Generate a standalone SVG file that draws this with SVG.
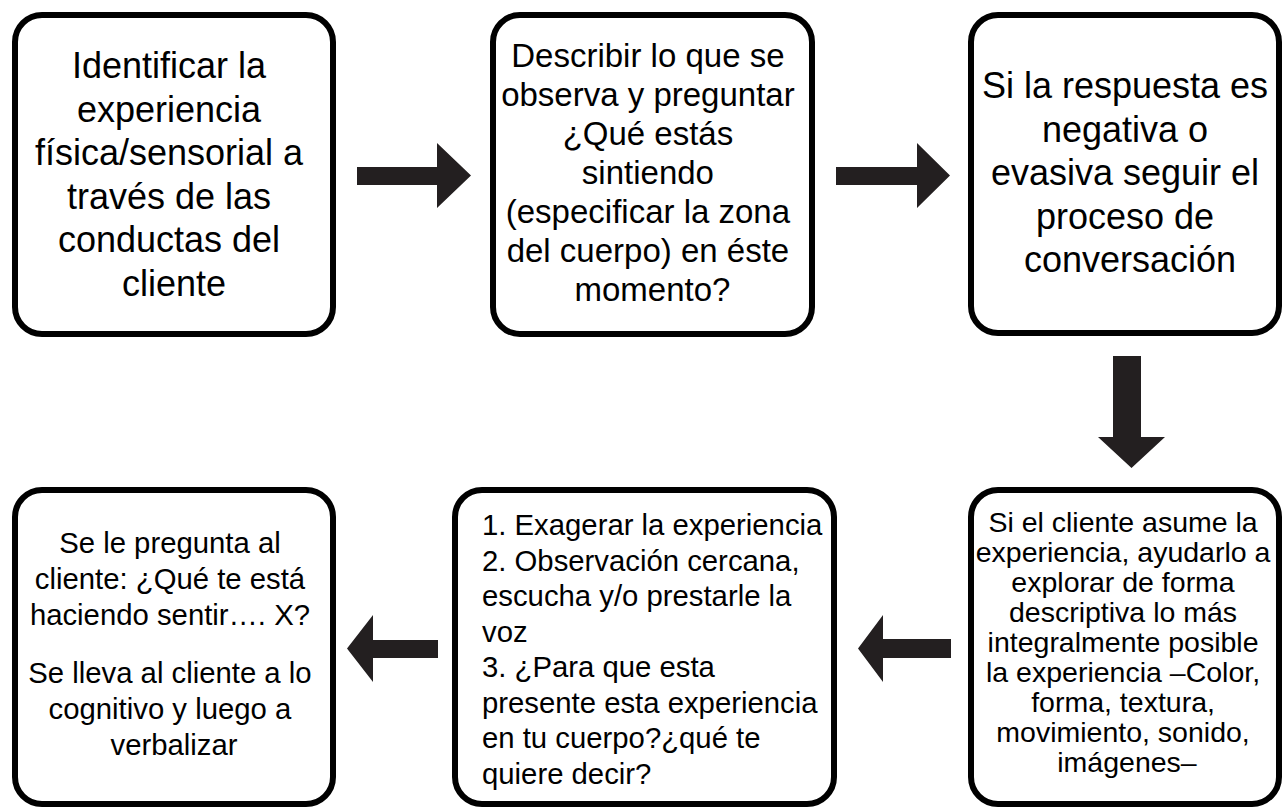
<svg xmlns="http://www.w3.org/2000/svg" width="1282" height="808" viewBox="0 0 1282 808">
<style>
.box{fill:#fff;stroke:#000;stroke-width:6}
.t{font-family:"Liberation Sans",Arial,sans-serif;fill:#000}
.c{text-anchor:middle}
.arr{fill:#231f20}
</style>
<rect width="1282" height="808" fill="#fff"/>
<g id="connectors">
<polygon class="arr" points="357,167 437,167 437,143 471,175.5 437,208 437,185 357,185"/>
<polygon class="arr" points="836,167 917,167 917,143 950,175.5 917,208 917,185 836,185"/>
<polygon class="arr" points="1113,356 1141,356 1141,437 1165,437 1131.5,468 1098,437 1113,437"/>
<polygon class="arr" points="951,639 883,639 883,615 858,648.5 883,682 883,658 951,658"/>
<polygon class="arr" points="438,640 373,640 373,615 347,648.5 373,682 373,658 438,658"/>
</g>
<g id="node1">
<rect class="box" x="15" y="15" width="318" height="319" rx="27"/>
<text class="t c" font-size="36" x="174">
<tspan x="174" y="78">Identificar la</tspan>
<tspan x="174" y="121.5">experiencia</tspan>
<tspan x="174" y="165">física/sensorial a</tspan>
<tspan x="174" y="208.5">través de las</tspan>
<tspan x="174" y="252">conductas del</tspan>
<tspan x="174" y="295.5">cliente</tspan>
</text>
</g>
<g id="node2">
<rect class="box" x="493" y="15" width="319" height="319" rx="27"/>
<text class="t c" font-size="33" x="652.5">
<tspan x="652.5" y="67">Describir lo que se</tspan>
<tspan x="652.5" y="106">observa y preguntar</tspan>
<tspan x="652.5" y="145">¿Qué estás</tspan>
<tspan x="652.5" y="184">sintiendo</tspan>
<tspan x="652.5" y="223">(especificar la zona</tspan>
<tspan x="652.5" y="262">del cuerpo) en éste</tspan>
<tspan x="652.5" y="301">momento?</tspan>
</text>
</g>
<g id="node3">
<rect class="box" x="971" y="15" width="308" height="318" rx="27"/>
<text class="t c" font-size="36" x="1130">
<tspan x="1130" y="98">Si la respuesta es</tspan>
<tspan x="1130" y="141.5">negativa o</tspan>
<tspan x="1130" y="185">evasiva seguir el</tspan>
<tspan x="1130" y="228.5">proceso de</tspan>
<tspan x="1130" y="272">conversación</tspan>
</text>
</g>
<g id="node6">
<rect class="box" x="971" y="490" width="308" height="314" rx="27"/>
<text class="t c" font-size="28.5" x="1127">
<tspan x="1127" y="532">Si el cliente asume la</tspan>
<tspan x="1127" y="562">experiencia, ayudarlo a</tspan>
<tspan x="1127" y="592">explorar de forma</tspan>
<tspan x="1127" y="622">descriptiva lo más</tspan>
<tspan x="1127" y="652">integralmente posible</tspan>
<tspan x="1127" y="682">la experiencia –Color,</tspan>
<tspan x="1127" y="712">forma, textura,</tspan>
<tspan x="1127" y="742">movimiento, sonido,</tspan>
<tspan x="1127" y="772">imágenes–</tspan>
</text>
</g>
<g id="node5">
<rect class="box" x="455" y="490" width="379" height="314" rx="27"/>
<text class="t" font-size="29.3">
<tspan x="482" y="535">1. Exagerar la experiencia</tspan>
<tspan x="482" y="570.5">2. Observación cercana,</tspan>
<tspan x="482" y="606">escucha y/o prestarle la</tspan>
<tspan x="482" y="641.5">voz</tspan>
<tspan x="482" y="677">3. ¿Para que esta</tspan>
<tspan x="482" y="712.5">presente esta experiencia</tspan>
<tspan x="482" y="748">en tu cuerpo?¿qué te</tspan>
<tspan x="482" y="783.5">quiere decir?</tspan>
</text>
</g>
<g id="node4">
<rect class="box" x="15" y="490" width="318" height="314" rx="27"/>
<text class="t c" font-size="29.3" x="174">
<tspan x="174" y="553">Se le pregunta al</tspan>
<tspan x="174" y="589">cliente: ¿Qué te está</tspan>
<tspan x="174" y="625">haciendo sentir…. X?</tspan>
<tspan x="174" y="683">Se lleva al cliente a lo</tspan>
<tspan x="174" y="719">cognitivo y luego a</tspan>
<tspan x="174" y="755">verbalizar</tspan>
</text>
</g>
</svg>
